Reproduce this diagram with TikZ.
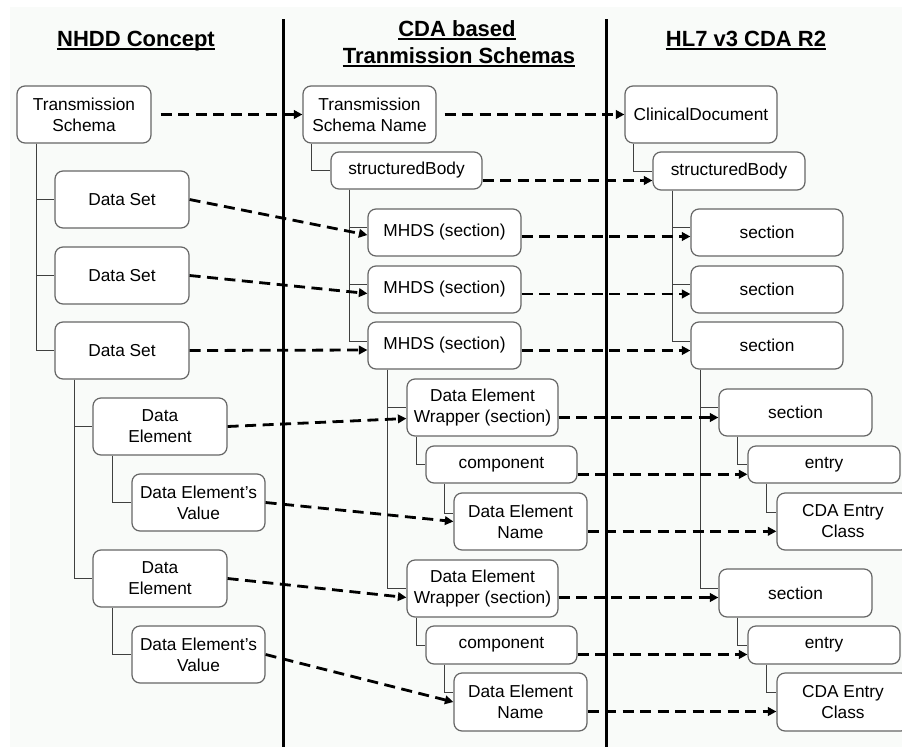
\documentclass[tikz,border=0pt]{standalone}
\usepackage{fontspec}
\setmainfont{Liberation Sans}
\usetikzlibrary{arrows.meta,calc}
\definecolor{bgc}{HTML}{F9FBF9}
\definecolor{boxc}{HTML}{666666}
\definecolor{treec}{HTML}{404040}
\tikzset{
  box/.style={draw=boxc, line width=1.2pt, rounded corners=8pt, fill=white, inner sep=0pt,
    align=center, font=\fontsize{17.3}{21}\selectfont},
  tree/.style={draw=treec, line width=0.9pt},
  map/.style={draw=black, line width=2.8pt, dash pattern=on 11pt off 6.5pt, -{Triangle[length=8.5pt,width=8.5pt]}},
  head/.style={inner sep=0pt, anchor=base, font=\fontsize{22}{27}\selectfont\bfseries},
  uline/.style={line width=1.6pt},
  divider/.style={line width=3pt}
}
\begin{document}
\begin{tikzpicture}[x=1pt,y=-1pt]
\useasboundingbox (0,0) rectangle (902,747);
\fill[white] (0,0) rectangle (902,747);
\fill[bgc] (10,7) rectangle (902,747);

% headings
\node[head] (h1) at (136,46.7) {NHDD Concept};
\node[head] (h2a) at (457,36.7) {CDA based};
\node[head] (h2b) at (459,63.3) {Tranmission Schemas};
\node[head] (h3) at (746,46.7) {HL7 v3 CDA R2};
\foreach \h in {h1,h2a,h2b,h3}
  \draw[uline] ($(\h.base west)+(0,2.5)$) -- ($(\h.base east)+(0,2.5)$);

% dividers
\coordinate (d1t) at (283,19); \coordinate (d1b) at (283,747);
\coordinate (d2t) at (606,19); \coordinate (d2b) at (606,747);
\draw[divider] (d1t) -- (d1b);
\draw[divider] (d2t) -- (d2b);

% left column
\node[box, minimum width=134pt, minimum height=57pt] (ts) at (84,114.5) {Transmission\\Schema};
\node[box, minimum width=134pt, minimum height=57pt] (ds1) at (122,199.5) {Data Set};
\node[box, minimum width=134pt, minimum height=57pt] (ds2) at (122,275.5) {Data Set};
\node[box, minimum width=134pt, minimum height=57pt] (ds3) at (122,350.5) {Data Set};
\node[box, minimum width=134pt, minimum height=57pt] (de1) at (160,426.5) {Data\\Element};
\node[box, minimum width=133pt, minimum height=57pt] (dev1) at (198.5,502.5) {Data Element’s\\Value};
\node[box, minimum width=134pt, minimum height=57pt] (de2) at (160,578.5) {Data\\Element};
\node[box, minimum width=133pt, minimum height=57pt] (dev2) at (198.5,654.5) {Data Element’s\\Value};

% middle column
\node[box, minimum width=133pt, minimum height=57pt] (tsn) at (369.5,114.5) {Transmission\\Schema Name};
\node[box, minimum width=151pt, minimum height=37pt] (sbm) at (406.5,170.5) {structuredBody};
\node[box, minimum width=153pt, minimum height=47pt] (m1) at (444.5,232.5) {MHDS (section)};
\node[box, minimum width=153pt, minimum height=47pt] (m2) at (444.5,289.5) {MHDS (section)};
\node[box, minimum width=153pt, minimum height=47pt] (m3) at (444.5,345.5) {MHDS (section)};
\node[box, minimum width=151pt, minimum height=57pt] (dw1) at (482.5,407.5) {Data Element\\Wrapper (section)};
\node[box, minimum width=151pt, minimum height=37pt] (cp1) at (501.5,464.5) {component};
\node[box, minimum width=133pt, minimum height=57pt] (dn1) at (520.5,521.5) {Data Element\\Name};
\node[box, minimum width=151pt, minimum height=57pt] (dw2) at (482.5,588.5) {Data Element\\Wrapper (section)};
\node[box, minimum width=151pt, minimum height=38pt] (cp2) at (501.5,645) {component};
\node[box, minimum width=133pt, minimum height=58pt] (dn2) at (520.5,702) {Data Element\\Name};

% right column
\node[box, minimum width=152pt, minimum height=57pt] (cd) at (701,114.5) {ClinicalDocument};
\node[box, minimum width=152pt, minimum height=38pt] (sbr) at (729,171) {structuredBody};
\node[box, minimum width=152pt, minimum height=47pt] (s1) at (767,232.5) {section};
\node[box, minimum width=152pt, minimum height=47pt] (s2) at (767,289.5) {section};
\node[box, minimum width=152pt, minimum height=47pt] (s3) at (767,345.5) {section};
\node[box, minimum width=153pt, minimum height=47pt] (s4) at (795.5,412.5) {section};
\node[box, minimum width=152pt, minimum height=37pt] (e1) at (824,464.5) {entry};
\node[box, minimum width=132pt, minimum height=57pt] (c1) at (843,521.5) {CDA Entry\\Class};
\node[box, minimum width=153pt, minimum height=48pt] (s5) at (795.5,593) {section};
\node[box, minimum width=152pt, minimum height=38pt] (e2) at (824,645) {entry};
\node[box, minimum width=132pt, minimum height=58pt] (c2) at (843,702) {CDA Entry\\Class};

% tree lines, left
\draw[tree] ($(ts.south west)+(20.3,0)$) |- (ds1.west);
\draw[tree] ($(ts.south west)+(20.3,0)$) |- (ds2.west);
\draw[tree] ($(ts.south west)+(20.3,0)$) |- (ds3.west);
\draw[tree] ($(ds3.south west)+(20.3,0)$) |- (de1.west);
\draw[tree] ($(ds3.south west)+(20.3,0)$) |- (de2.west);
\draw[tree] ($(de1.south west)+(19.7,0)$) |- (dev1.west);
\draw[tree] ($(de2.south west)+(19.7,0)$) |- (dev2.west);

% tree lines, middle
\draw[tree] ($(tsn.south west)+(8.7,0)$) |- (sbm.west);
\draw[tree] ($(sbm.south west)+(19,0)$) |- ($(m1.west)+(0,-5)$);
\draw[tree] ($(sbm.south west)+(19,0)$) |- ($(m2.west)+(0,-5)$);
\draw[tree] ($(sbm.south west)+(19,0)$) |- ($(m3.west)+(0,-4)$);
\draw[tree] ($(m3.south west)+(19.7,0)$) |- (dw1.west);
\draw[tree] ($(m3.south west)+(19.7,0)$) |- (dw2.west);
\draw[tree] ($(dw1.south west)+(9.7,0)$) |- (cp1.west);
\draw[tree] ($(dw2.south west)+(9.7,0)$) |- (cp2.west);
\draw[tree] ($(cp1.south west)+(19,0)$) |- ($(dn1.west)+(0,-8)$);
\draw[tree] ($(cp2.south west)+(19,0)$) |- ($(dn2.west)+(0,-10)$);

% tree lines, right
\draw[tree] ($(cd.south west)+(9.3,0)$) |- (sbr.west);
\draw[tree] ($(sbr.south west)+(19.7,0)$) |- ($(s1.west)+(0,-5)$);
\draw[tree] ($(sbr.south west)+(19.7,0)$) |- ($(s2.west)+(0,-5)$);
\draw[tree] ($(sbr.south west)+(19.7,0)$) |- ($(s3.west)+(0,-4)$);
\draw[tree] ($(s3.south west)+(9.7,0)$) |- ($(s4.west)+(0,-5)$);
\draw[tree] ($(s3.south west)+(9.7,0)$) |- ($(s5.west)+(0,-5)$);
\draw[tree] ($(s4.south west)+(19.3,0)$) |- (e1.west);
\draw[tree] ($(s5.south west)+(19.3,0)$) |- (e2.west);
\draw[tree] ($(e1.south west)+(19.3,0)$) |- ($(c1.west)+(0,-9)$);
\draw[tree] ($(e2.south west)+(19.3,0)$) |- ($(c2.west)+(0,-10)$);

% mapping arrows, left to middle
\draw[map] ($(ts.east)+(9,0)$) -- (tsn.west);
\draw[map] (ds1.east) -- ($(m1.west)+(0,2.5)$);
\draw[map] (ds2.east) -- ($(m2.west)+(0,4)$);
\draw[map] (ds3.east) -- ($(m3.west)+(0,4.5)$);
\draw[map] (de1.east) -- ($(dw1.west)+(0,11)$);
\draw[map] (dev1.east) -- (dn1.west);
\draw[map] (de2.east) -- ($(dw2.west)+(0,9)$);
\draw[map] (dev2.east) -- (dn2.west);

% mapping arrows, middle to right
\draw[map] ($(tsn.east)+(8,0)$) -- (cd.west);
\draw[map] ($(sbm.east)+(0,10)$) -- ($(sbr.west)+(0,9.5)$);
\draw[map] ($(m1.east)+(0,4)$) -- ($(s1.west)+(0,4)$);
\draw[map] ($(m2.east)+(0,4.5)$) -- ($(s2.west)+(0,4.5)$);
\draw[map] ($(m3.east)+(0,5)$) -- ($(s3.west)+(0,5)$);
\draw[map] ($(dw1.east)+(0,10)$) -- ($(s4.west)+(0,5)$);
\draw[map] ($(cp1.east)+(0,9.8)$) -- ($(e1.west)+(0,9.8)$);
\draw[map] ($(dn1.east)+(0,9.8)$) -- ($(c1.west)+(0,9.8)$);
\draw[map] ($(dw2.east)+(0,9)$) -- ($(s5.west)+(0,4.5)$);
\draw[map] ($(cp2.east)+(0,9.5)$) -- ($(e2.west)+(0,9.5)$);
\draw[map] ($(dn2.east)+(0,9.5)$) -- ($(c2.west)+(0,9.5)$);
\end{tikzpicture}
\end{document}
